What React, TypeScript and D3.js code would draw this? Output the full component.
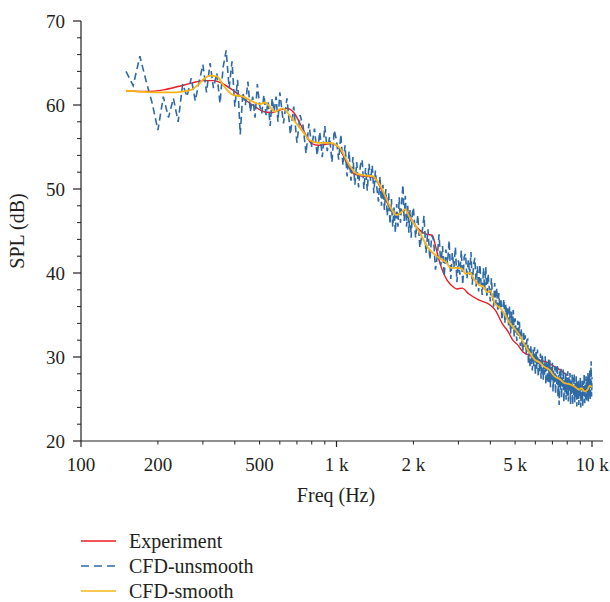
import React from "react";
import * as d3 from "d3";

// ---------------- data ----------------
const xTickMajor = [100, 1000, 10000];
const xTickMinor = [200, 300, 400, 500, 600, 700, 800, 900, 2000, 3000, 4000, 5000, 6000, 7000, 8000, 9000];
const xTickLabels = [
  { f: 100, label: "100" },
  { f: 200, label: "200" },
  { f: 500, label: "500" },
  { f: 1000, label: "1 k" },
  { f: 2000, label: "2 k" },
  { f: 5000, label: "5 k" },
  { f: 10000, label: "10 k" },
];
const yTickMajor = [20, 30, 40, 50, 60, 70];
const yTickMinor = [22, 24, 26, 28, 32, 34, 36, 38, 42, 44, 46, 48, 52, 54, 56, 58, 62, 64, 66, 68];

const expFreq = [150, 180, 210, 240, 270, 300, 330, 360, 400, 440, 480, 520, 560, 600, 640, 680, 720, 760, 800, 850, 900, 950, 1000, 1050, 1100, 1160, 1220, 1300, 1390, 1450, 1520, 1600, 1650, 1720, 1800, 1860, 1920, 2000, 2100, 2180, 2260, 2370, 2450, 2550, 2700, 2850, 2960, 3100, 3300, 3600, 3990, 4200, 4450, 4700, 4900, 5100, 5370, 5700, 6000, 6300, 6670, 7000, 7300, 7700, 8000];
const expSpl = [61.7, 61.6, 61.8, 62.2, 62.6, 62.9, 62.9, 62.5, 61.6, 60.6, 59.8, 59.2, 59.1, 59.4, 59.6, 59.1, 57.8, 56.4, 55.4, 55.2, 55.3, 55.4, 55.2, 54.3, 53.0, 51.9, 51.6, 51.5, 51.4, 50.8, 49.5, 48.0, 47.4, 47.0, 47.3, 47.6, 47.0, 46.0, 45.2, 44.8, 44.6, 44.5, 43.0, 41.0, 39.2, 38.4, 38.1, 38.2, 37.5, 36.8, 36.2, 35.5, 34.0, 33.0, 32.0, 31.5, 30.6, 30.2, 29.9, 29.6, 29.4, 29.0, 28.7, 28.2, 27.8];

const smoothFreq = [150, 170, 190, 220, 250, 270, 285, 300, 320, 340, 360, 375, 393, 430, 470, 500, 525, 545, 575, 600, 617, 650, 688, 740, 787, 850, 940, 1030, 1080, 1130, 1180, 1230, 1320, 1390, 1415, 1490, 1560, 1620, 1720, 1790, 1855, 1920, 2070, 2170, 2270, 2400, 2550, 2700, 2800, 2960, 3100, 3200, 3330, 3450, 3600, 3750, 3900, 3990, 4180, 4350, 4570, 4750, 5000, 5200, 5460, 5700, 5960, 6200, 6530, 6800, 7140, 7450, 7800, 8100, 8540, 8900, 9100, 9340, 9600, 9790, 10000];
const smoothSpl = [61.7, 61.6, 61.5, 61.5, 61.6, 61.8, 62.3, 63.0, 63.5, 63.4, 62.4, 61.7, 61.2, 61.0, 60.4, 60.1, 60.3, 59.9, 59.2, 59.5, 59.6, 58.9, 58.0, 56.8, 55.8, 55.5, 55.5, 54.9, 53.8, 52.7, 52.0, 51.7, 51.6, 51.5, 51.3, 50.3, 49.0, 47.9, 46.9, 47.2, 47.6, 46.8, 45.3, 44.2, 43.1, 42.3, 41.7, 41.2, 40.6, 40.6, 40.5, 39.9, 40.0, 39.3, 38.6, 38.4, 37.7, 37.9, 36.3, 35.9, 35.0, 34.1, 33.3, 32.6, 31.4, 30.5, 29.7, 29.4, 28.8, 28.5, 27.7, 27.4, 26.9, 26.8, 26.5, 26.1, 26.3, 25.9, 26.1, 26.6, 26.4];

// CFD-unsmooth: spectrum bins (start frequency, bin step, values)
const unsmoothLow = [64.0, 62.3, 65.8, 62.8, 60.2, 57.0, 61.0, 58.5, 60.8, 58.0, 62.5, 61.0, 63.2, 60.5, 62.8, 64.8, 61.5, 65.0, 62.0, 63.8, 60.2, 64.5, 66.5, 62.0, 65.2, 59.8, 63.0, 56.5, 61.5, 60.0, 62.8, 59.2, 61.0, 58.5, 62.5, 60.0, 59.0, 61.2, 58.8, 60.5, 57.5, 60.8, 59.2, 61.0, 58.0];
const unsmoothMid = [61.5, 57.8, 60.8, 56.5, 59.8, 55.5, 58.8, 57.5, 54.2, 57.8, 55.0, 57.2, 54.0, 56.8, 53.8, 57.5, 54.5, 56.2, 53.2, 57.0, 55.8, 53.5, 56.5, 52.8, 55.2, 51.5, 54.5, 51.0, 53.8, 50.5, 53.2, 50.2, 52.8, 53.5, 50.0, 52.5, 49.8, 53.0, 51.0, 52.8, 49.5, 52.2, 50.0, 48.5, 51.5, 48.0, 50.5, 47.5, 50.0, 46.8, 49.5, 45.8, 48.8, 45.5, 47.8, 44.8, 48.2, 45.5, 49.0, 46.0, 48.5, 50.5, 46.2, 49.2, 45.5, 48.0, 44.8, 47.5, 44.2, 47.0];
const unsmoothHigh = [
  47.8, 44.2, 46.9, 43.0, 44.6, 46.8, 42.4, 45.2, 41.6, 44.5,
  43.9, 40.4, 42.0, 44.6, 40.9, 43.2, 39.6, 42.8, 41.1, 43.9,
  39.3, 42.4, 40.6, 43.1, 38.9, 41.5, 39.8, 42.7, 38.6, 41.9,
  42.3, 39.3, 41.6, 39.8, 42.5, 38.6, 41.0, 41.8, 38.4, 40.8,
  37.8, 41.0, 38.8, 37.4, 40.6, 38.0, 40.7, 37.1, 39.9, 38.3,
  36.6, 39.4, 37.1, 36.0, 38.8, 36.3, 38.2, 35.4, 37.6, 35.8,
  37.0, 34.4, 35.9, 36.9, 34.0, 36.3, 34.5, 35.8, 33.6, 36.0,
  32.8, 35.4, 33.4, 35.6, 32.4, 34.6, 33.0, 31.9, 34.3, 32.4,
  34.2, 31.3, 33.4, 31.8, 30.7, 33.1, 31.2, 32.6, 30.3, 32.0,
  32.1, 29.2, 31.0, 28.7, 31.4, 29.6, 28.4, 30.9, 28.9, 31.2,
  27.9, 30.6, 28.6, 30.9, 27.6, 29.8, 28.3, 30.4, 27.4, 29.7,
  30.3, 27.3, 29.2, 27.9, 30.1, 26.7, 29.5, 28.1, 26.9, 29.7,
  27.0, 29.6, 26.4, 28.8, 27.3, 29.3, 25.9, 28.4, 26.8, 28.9,
  25.6, 28.7, 26.6, 29.1, 25.3, 27.9, 24.3, 28.3, 26.1, 28.6,
  25.1, 27.8, 26.3, 28.6, 24.6, 27.4, 25.8, 28.2, 24.9, 27.6,
  25.4, 28.3, 24.7, 27.6, 26.0, 28.1, 24.4, 27.2, 25.6, 27.9,
  24.3, 27.5, 25.4, 28.0, 24.6, 26.9, 25.2, 27.7, 24.1, 27.0,
  25.0, 27.4, 24.3, 26.8, 25.5, 27.6, 24.0, 26.6, 24.8, 27.3,
  24.2, 27.1, 25.3, 28.0, 24.5, 26.7, 25.0, 27.7, 24.6, 27.4,
  25.1, 28.1, 24.7, 27.3, 25.6, 28.4, 24.9, 27.0, 29.5, 25.3,
  27.6,
];
const unsmoothSegments = [
  { start: 150, step: 10, spl: unsmoothLow },
  { start: 600, step: 20, spl: unsmoothMid },
  { start: 2000, step: 40, spl: unsmoothHigh },
];

const legendItems = [
  { label: "Experiment", color: "#ec1c24", dash: "none" },
  { label: "CFD-unsmooth", color: "#2e6aa6", dash: "7,4" },
  { label: "CFD-smooth", color: "#f8b416", dash: "none" },
];

// ---------------- chart ----------------
const W = 610;
const H = 602;
const FONT = "'Liberation Serif', 'Times New Roman', serif";

export default function App() {
  const x = d3.scaleLog().domain([100, 10000]).range([81, 592]);
  const y = d3.scaleLinear().domain([20, 70]).range([441, 21]);

  const line = d3
    .line<[number, number]>()
    .x((d) => x(d[0]))
    .y((d) => y(d[1]));
  const smoothLine = d3
    .line<[number, number]>()
    .x((d) => x(d[0]))
    .y((d) => y(d[1]))
    .curve(d3.curveMonotoneX);

  const expPts: [number, number][] = expFreq.map((f, i) => [f, expSpl[i]]);
  const smoothPts: [number, number][] = smoothFreq.map((f, i) => [f, smoothSpl[i]]);
  const unsmoothPts: [number, number][] = [];
  unsmoothSegments.forEach((s) => {
    s.spl.forEach((v, i) => unsmoothPts.push([s.start + i * s.step, v]));
  });

  const axisColor = "#231f20";

  return (
    <svg
      width={W}
      height={H}
      style={{ position: "absolute", left: 0, top: 0, background: "#fff" }}
      fontFamily={FONT}
    >
      {/* data */}
      <path d={smoothLine(expPts) || ""} fill="none" stroke={legendItems[0].color} strokeWidth={1.4} />
      <path
        d={line(unsmoothPts) || ""}
        fill="none"
        stroke={legendItems[1].color}
        strokeWidth={1.6}
        strokeDasharray={legendItems[1].dash}
      />
      <path d={smoothLine(smoothPts) || ""} fill="none" stroke={legendItems[2].color} strokeWidth={1.8} />

      {/* y axis */}
      <line x1={81} x2={81} y1={y(70)} y2={y(20)} stroke={axisColor} strokeWidth={1.2} />
      {yTickMajor.map((t) => (
        <g key={"ym" + t}>
          <line x1={73} x2={81} y1={y(t)} y2={y(t)} stroke={axisColor} strokeWidth={1.2} />
          <text x={65} y={y(t)} dy="0.35em" textAnchor="end" fontSize={19} fill="#231f20">
            {t}
          </text>
        </g>
      ))}
      {yTickMinor.map((t) => (
        <line key={"yn" + t} x1={77} x2={81} y1={y(t)} y2={y(t)} stroke={axisColor} strokeWidth={1} />
      ))}
      <text
        transform={`translate(24, ${y(45)}) rotate(-90)`}
        textAnchor="middle"
        fontSize={20}
        fill="#231f20"
      >
        SPL (dB)
      </text>

      {/* x axis */}
      <line x1={81} x2={603} y1={y(20)} y2={y(20)} stroke={axisColor} strokeWidth={1.2} />
      {xTickMajor.map((t) => (
        <line key={"xm" + t} x1={x(t)} x2={x(t)} y1={y(20)} y2={y(20) + 6} stroke={axisColor} strokeWidth={1.2} />
      ))}
      {xTickMinor.map((t) => (
        <line key={"xn" + t} x1={x(t)} x2={x(t)} y1={y(20)} y2={y(20) + 3.5} stroke={axisColor} strokeWidth={1} />
      ))}
      {xTickLabels.map((t) => (
        <text key={"xl" + t.f} x={x(t.f)} y={471} textAnchor="middle" fontSize={19} fill="#231f20">
          {t.label}
        </text>
      ))}
      <text x={336} y={502} textAnchor="middle" fontSize={20} fill="#231f20">
        Freq (Hz)
      </text>

      {/* legend */}
      {legendItems.map((d, i) => {
        const ly = 541 + i * 25;
        return (
          <g key={d.label}>
            <line
              x1={81}
              x2={116}
              y1={ly}
              y2={ly}
              stroke={d.color}
              strokeWidth={1.4}
              strokeDasharray={d.dash === "none" ? undefined : "8,5"}
            />
            <text x={129} y={ly} dy="0.33em" fontSize={20} fill="#231f20">
              {d.label}
            </text>
          </g>
        );
      })}
    </svg>
  );
}
